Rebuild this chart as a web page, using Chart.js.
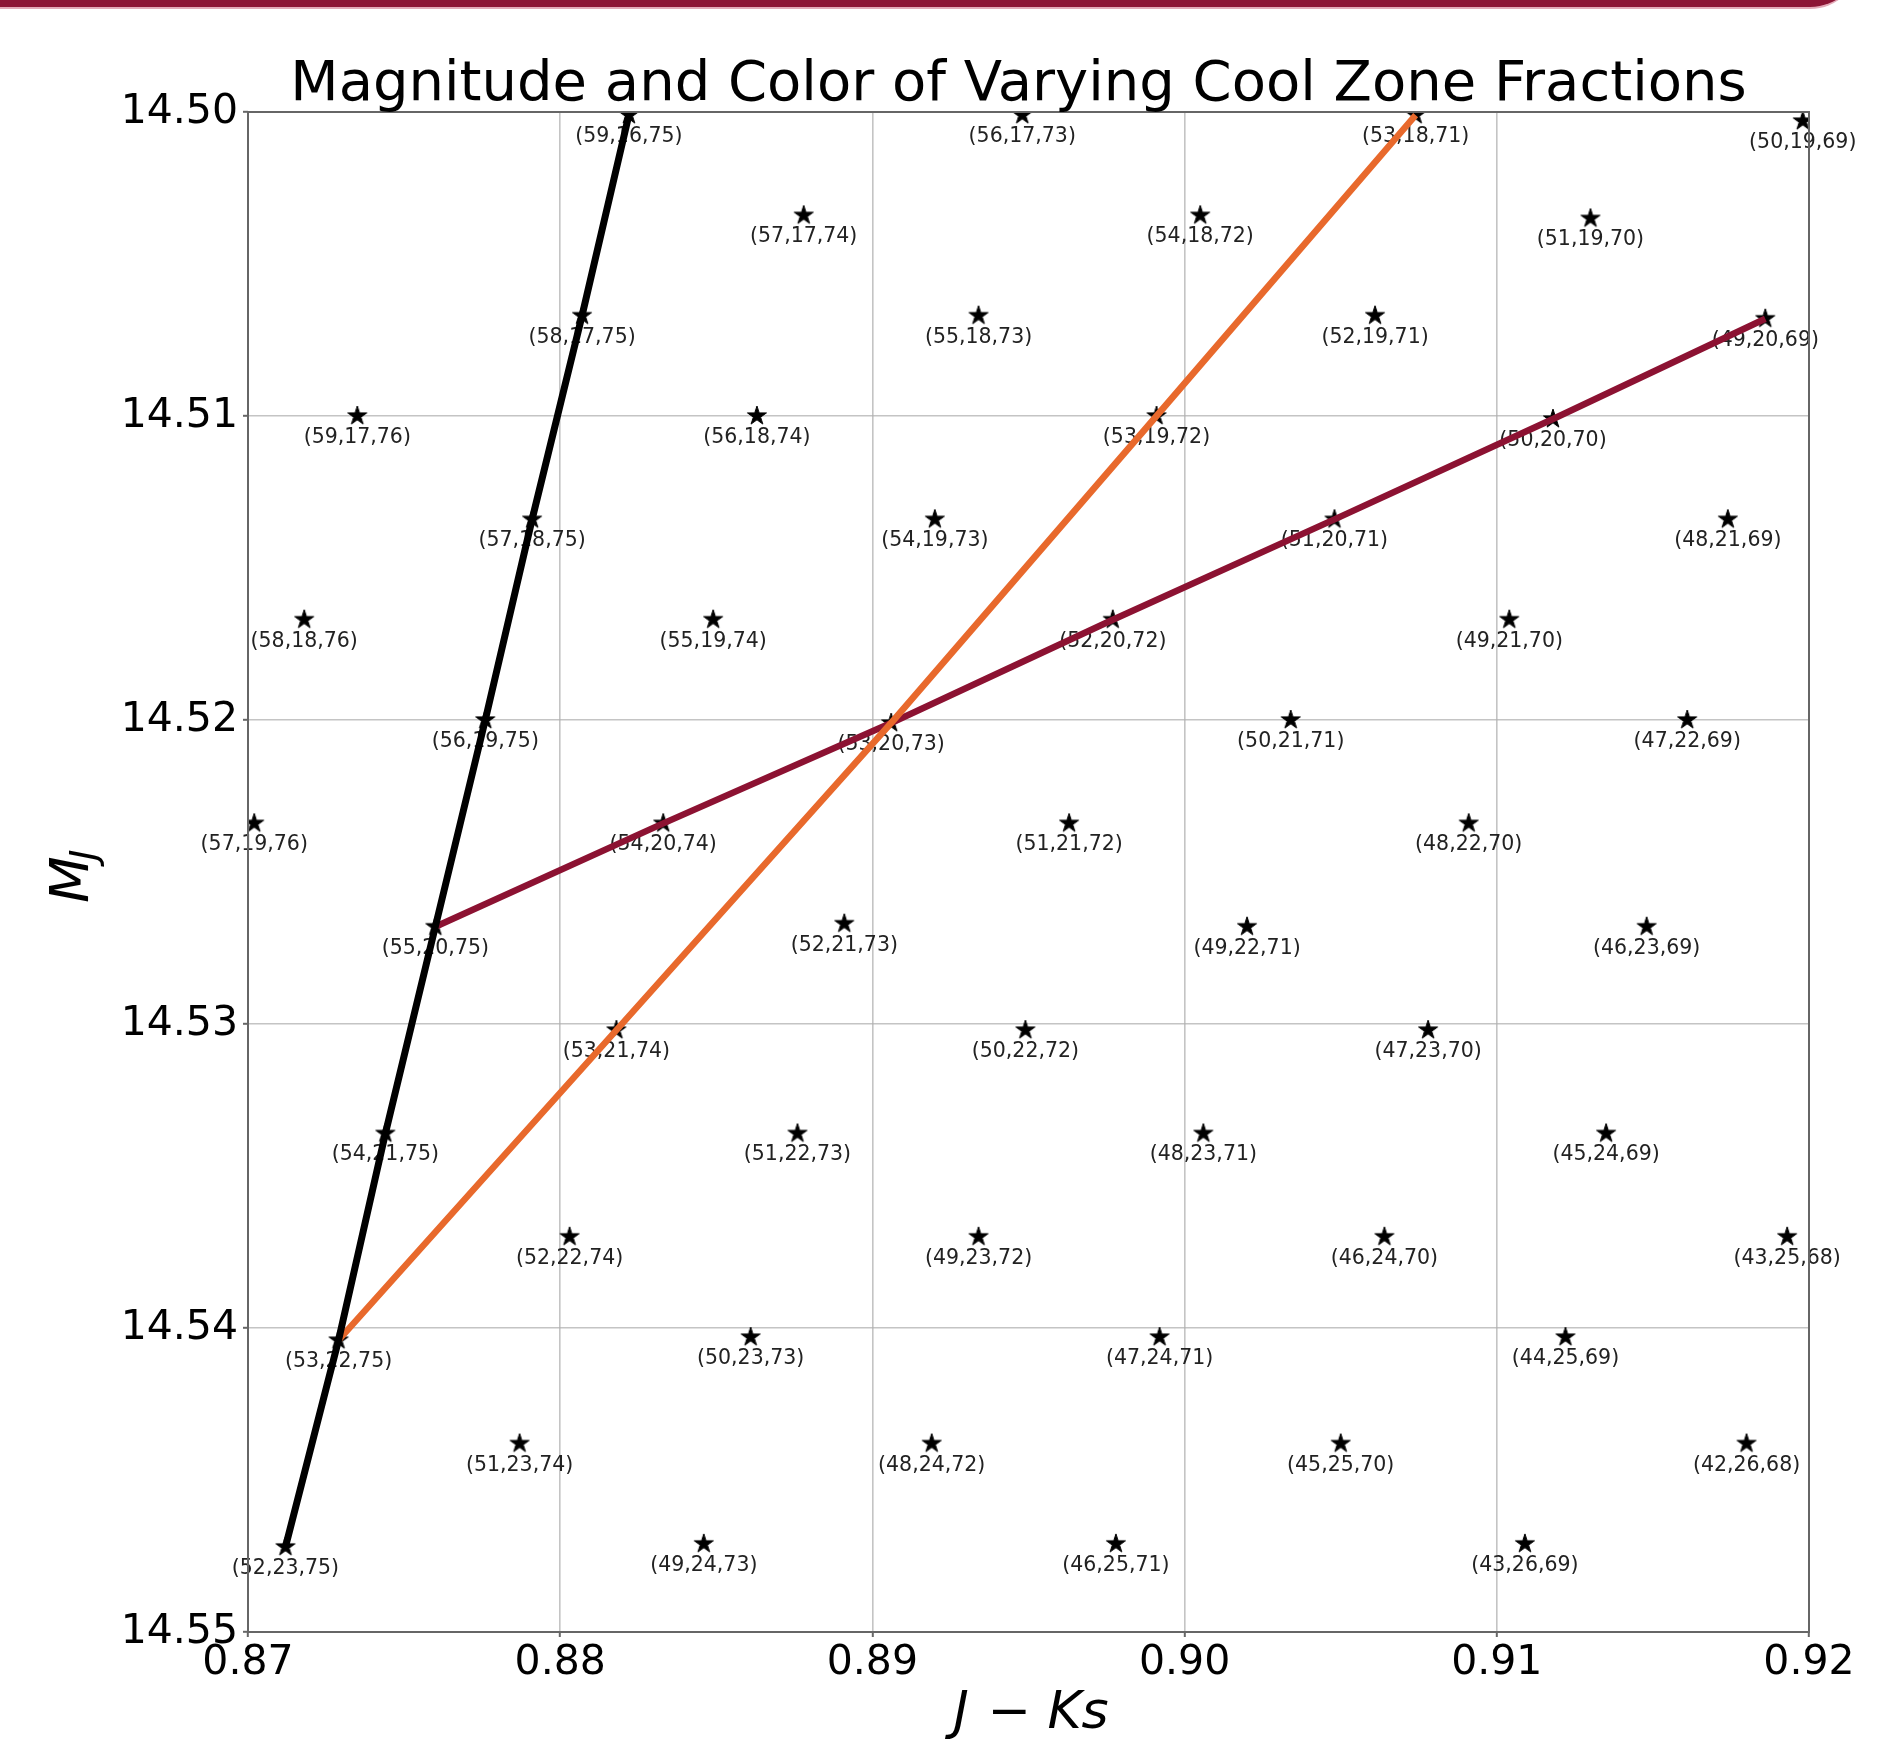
<!DOCTYPE html>
<html>
<head>
<meta charset="utf-8">
<script src="https://cdn.jsdelivr.net/npm/chart.js@4.4.1/dist/chart.umd.min.js"></script>
<style>
  html, body { margin: 0; padding: 0; background: #fff; overflow: hidden; }
  #wrap   { position: relative; width: 1903px; height: 1746px; }
  #plot   { position: absolute; left: 0; top: 0; }
  #topbar { position: absolute; left: 0; top: -41px; width: 1860px; height: 48px; z-index: 2;
            background: #8c1535; border-bottom: 2px solid #e3aab8; border-bottom-right-radius: 50px; }
</style>
</head>
<body>
<div id="wrap">
  <div id="topbar"></div>
  <canvas id="plot" width="1903" height="1746"></canvas>
</div>
<script>
/* ── data ───────────────────────────────────────────── */
const starLabels = [
  '(59,16,75)','(56,17,73)','(53,18,71)','(50,19,69)',
  '(57,17,74)','(54,18,72)','(51,19,70)',
  '(58,17,75)','(55,18,73)','(52,19,71)','(49,20,69)',
  '(59,17,76)','(56,18,74)','(53,19,72)','(50,20,70)',
  '(57,18,75)','(54,19,73)','(51,20,71)','(48,21,69)',
  '(58,18,76)','(55,19,74)','(52,20,72)','(49,21,70)',
  '(56,19,75)','(53,20,73)','(50,21,71)','(47,22,69)',
  '(57,19,76)','(54,20,74)','(51,21,72)','(48,22,70)',
  '(55,20,75)','(52,21,73)','(49,22,71)','(46,23,69)',
  '(53,21,74)','(50,22,72)','(47,23,70)',
  '(54,21,75)','(51,22,73)','(48,23,71)','(45,24,69)',
  '(52,22,74)','(49,23,72)','(46,24,70)','(43,25,68)',
  '(53,22,75)','(50,23,73)','(47,24,71)','(44,25,69)',
  '(51,23,74)','(48,24,72)','(45,25,70)','(42,26,68)',
  '(52,23,75)','(49,24,73)','(46,25,71)','(43,26,69)'
];
const starJK = [
  0.8822, 0.8948, 0.9074, 0.9198,
  0.8878, 0.9005, 0.9130,
  0.8807, 0.8934, 0.9061, 0.9186,
  0.8735, 0.8863, 0.8991, 0.9118,
  0.8791, 0.8920, 0.9048, 0.9174,
  0.8718, 0.8849, 0.8977, 0.9104,
  0.8776, 0.8906, 0.9034, 0.9161,
  0.8702, 0.8833, 0.8963, 0.9091,
  0.8760, 0.8891, 0.9020, 0.9148,
  0.8818, 0.8949, 0.9078,
  0.8744, 0.8876, 0.9006, 0.9135,
  0.8803, 0.8934, 0.9064, 0.9193,
  0.8729, 0.8861, 0.8992, 0.9122,
  0.8787, 0.8919, 0.9050, 0.9180,
  0.8712, 0.8846, 0.8978, 0.9109
];
const starMJ = [
  14.5001, 14.5001, 14.5001, 14.5003,
  14.5034, 14.5034, 14.5035,
  14.5067, 14.5067, 14.5067, 14.5068,
  14.5100, 14.5100, 14.5100, 14.5101,
  14.5134, 14.5134, 14.5134, 14.5134,
  14.5167, 14.5167, 14.5167, 14.5167,
  14.5200, 14.5201, 14.5200, 14.5200,
  14.5234, 14.5234, 14.5234, 14.5234,
  14.5268, 14.5267, 14.5268, 14.5268,
  14.5302, 14.5302, 14.5302,
  14.5336, 14.5336, 14.5336, 14.5336,
  14.5370, 14.5370, 14.5370, 14.5370,
  14.5404, 14.5403, 14.5403, 14.5403,
  14.5438, 14.5438, 14.5438, 14.5438,
  14.5472, 14.5471, 14.5471, 14.5471
];

/* the three connected tracks, by point label */
const trackC75 = ['(52,23,75)','(53,22,75)','(54,21,75)','(55,20,75)','(56,19,75)','(57,18,75)','(58,17,75)','(59,16,75)'];
const trackA53 = ['(53,22,75)','(53,21,74)','(53,20,73)','(53,19,72)','(53,18,71)'];
const trackB20 = ['(55,20,75)','(54,20,74)','(53,20,73)','(52,20,72)','(51,20,71)','(50,20,70)','(49,20,69)'];

const xTicks = [0.87, 0.88, 0.89, 0.90, 0.91, 0.92];
const yTicks = [14.50, 14.51, 14.52, 14.53, 14.54, 14.55];

const titleText = 'Magnitude and Color of Varying Cool Zone Fractions';

/* ── helpers ───────────────────────────────────────── */
const starPoints = starLabels.map((l, i) => ({ x: starJK[i], y: starMJ[i], label: l }));
const track = names => names.map(n => starPoints[starLabels.indexOf(n)]);

/* filled 5-point star marker (matplotlib '*') */
function makeStar (r) {
  const c = document.createElement('canvas');
  const s = Math.ceil(r * 2 + 4);
  c.width = c.height = s;
  const g = c.getContext('2d');
  g.translate(s / 2, s / 2);
  g.beginPath();
  for (let k = 0; k < 10; k++) {
    const rr = k % 2 ? r * 0.382 : r;
    const a = -Math.PI / 2 + k * Math.PI / 5;
    g.lineTo(rr * Math.cos(a), rr * Math.sin(a));
  }
  g.closePath();
  g.fillStyle = '#000';
  g.fill();
  g.lineWidth = 1; g.strokeStyle = '#000'; g.stroke();
  return c;
}
const starImg = makeStar(10);

/* labels under each star, then title/axis titles/frame */
const annotate = {
  id: 'annotate',
  afterDatasetDraw (chart, args) {
    if (args.index !== 3) return;
    const ctx = chart.ctx;
    ctx.save();
    ctx.font = '20.5px "DejaVu Sans"';
    ctx.fillStyle = '#222';
    ctx.textAlign = 'center';
    ctx.textBaseline = 'alphabetic';
    args.meta.data.forEach((p, i) => ctx.fillText(starLabels[i], p.x, p.y + 27));
    ctx.restore();
  },
  afterDraw (chart) {
    const { ctx, chartArea: a } = chart;
    const cx = (a.left + a.right) / 2;
    ctx.save();
    /* frame */
    ctx.strokeStyle = '#666'; ctx.lineWidth = 2;
    ctx.strokeRect(a.left, a.top, a.right - a.left, a.bottom - a.top);
    /* title */
    ctx.fillStyle = '#000';
    ctx.font = '56px "DejaVu Sans"';
    ctx.textAlign = 'center'; ctx.textBaseline = 'alphabetic';
    ctx.fillText(titleText, cx - 10, 100);
    /* x title: J − Ks */
    ctx.textAlign = 'left';
    const by = 1728;
    ctx.font = 'italic 52px "DejaVu Sans"';
    ctx.fillText('J', cx - 75, by);
    ctx.fillText('Ks', cx + 19, by);
    ctx.font = '52px "DejaVu Sans"';
    ctx.fillText('\u2212', cx - 41, by);
    /* y title: M_J */
    const cy = (a.top + a.bottom) / 2;
    ctx.translate(88, cy + 31);
    ctx.rotate(-Math.PI / 2);
    ctx.font = 'italic 54px "DejaVu Sans"';
    const wM = ctx.measureText('M').width;
    ctx.fillText('M', 0, 0);
    ctx.font = 'italic 38px "DejaVu Sans"';
    ctx.fillText('J', wM - 4, 8);
    ctx.restore();
  }
};

const tickFont = { family: 'DejaVu Sans', size: 41 };
const gridCfg  = { color: 'rgba(176,176,176,0.75)', lineWidth: 1.6, tickLength: 5, tickColor: '#666', tickWidth: 2 };

new Chart(document.getElementById('plot'), {
  type: 'scatter',
  data: {
    datasets: [
      { label: 'c=75', data: track(trackC75), showLine: true, borderColor: '#000000', borderWidth: 7,
        pointRadius: 0, fill: false, tension: 0, clip: 0, order: 0 },
      { label: 'a=53', data: track(trackA53), showLine: true, borderColor: '#e8692c', borderWidth: 6.5,
        pointRadius: 0, fill: false, tension: 0, clip: 0, order: 1 },
      { label: 'b=20', data: track(trackB20), showLine: true, borderColor: '#8c1232', borderWidth: 6.5,
        pointRadius: 0, fill: false, tension: 0, clip: 0, order: 2 },
      { label: 'models', data: starPoints, pointStyle: starImg, pointRadius: 10,
        showLine: false, clip: 0, order: 3 }
    ]
  },
  options: {
    responsive: false,
    animation: false,
    devicePixelRatio: 1,
    layout: { padding: { top: 112, right: 94, left: 0, bottom: 0 } },
    plugins: { legend: { display: false }, tooltip: { enabled: false }, title: { display: false } },
    scales: {
      x: {
        type: 'linear', min: 0.87, max: 0.92,
        afterBuildTicks: s => { s.ticks = xTicks.map(v => ({ value: v })); },
        afterFit: s => { s.height = 114; },
        ticks: { font: tickFont, color: '#000', padding: 2, maxRotation: 0, callback: v => v.toFixed(2) },
        grid: gridCfg,
        border: { display: false }
      },
      y: {
        type: 'linear', min: 14.50, max: 14.55, reverse: true,
        afterBuildTicks: s => { s.ticks = yTicks.map(v => ({ value: v })); },
        afterFit: s => { s.width = 248; },
        ticks: { font: tickFont, color: '#000', padding: 5, callback: v => v.toFixed(2) },
        grid: gridCfg,
        border: { display: false }
      }
    }
  },
  plugins: [annotate]
});
</script>
</body>
</html>
